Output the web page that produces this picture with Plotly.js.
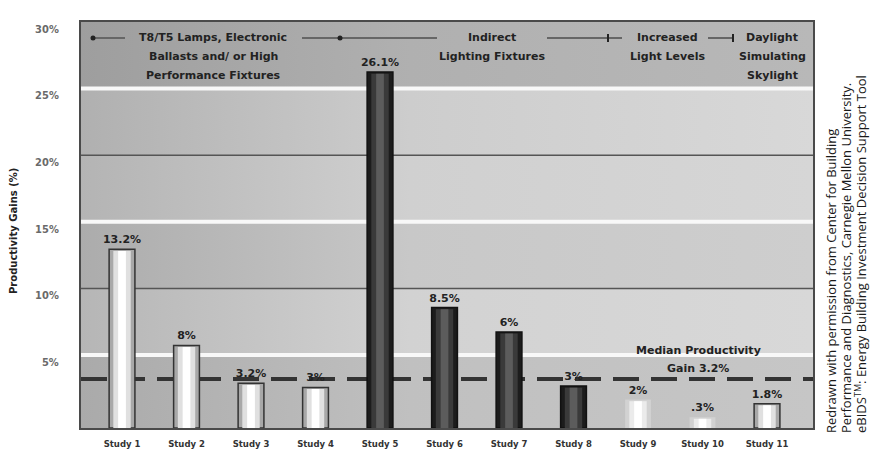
<!DOCTYPE html>
<html>
<head>
<meta charset="utf-8">
<script src="https://cdn.plot.ly/plotly-3.0.1.min.js"></script>
<style>html,body{margin:0;padding:0;background:#fff;}#chart{width:874px;height:455px;}</style>
</head>
<body>
<div id="chart"></div>
<script>
// ---------- data ----------
const categories = ['Study 1','Study 2','Study 3','Study 4','Study 5','Study 6','Study 7','Study 8','Study 9','Study 10','Study 11'];
const gains = [13.2, 6.1, 3.3, 3.0, 26.3, 8.9, 7.1, 3.1, 2.1, 0.8, 1.8];
const gainLabels = ['13.2%','8%','3.2%','3%','26.1%','8.5%','6%','3%','2%','.3%','1.8%'];
const barStyle = ['light','light','light','light','dark','dark','dark','dark','faint','faint','light'];
const yTickVals = [5, 10, 15, 20, 25, 30];
const yTickText = ['5%','10%','15%','20%','25%','30%'];
const medianGain = 3.2;
const medianLabel = ['Median Productivity', 'Gain 3.2%'];
const phaseLabels = [
  ['T8/T5 Lamps, Electronic', 'Ballasts and/ or High', 'Performance Fixtures'],
  ['Indirect', 'Lighting Fixtures'],
  ['Increased', 'Light Levels'],
  ['Daylight', 'Simulating', 'Skylight']
];
const yTitle = 'Productivity Gains (%)';
const creditLines = [
  'Redrawn with permission from Center for Building',
  'Performance and Diagnostics, Carnegie Mellon University.',
  'eBIDS<sup>TM</sup>: Energy Building Investment Decision Support Tool'
];

// ---------- styling ----------
const L = 81, R = 813, T = 22, B = 428;
const X = px => (px - L) / (R - L);
const Y = py => (B - py) / (B - T);
const yBaseRange = [-0.47, 30];

const palette = {
  light: {outer:'#a8a8a8', mid:'#e0e0e0', inner:'#ffffff', line:'#333333', lw:1.5},
  dark:  {outer:'#1c1c1c', mid:'#3a3a3a', inner:'#5c5c5c', line:'#111111', lw:1.5},
  faint: {outer:'#d2d2d2', mid:'#ebebeb', inner:'#ffffff', line:'rgba(0,0,0,0)', lw:0}
};
const bandColors = [ // bottom to top: left, mid, right
  ['#aaaaaa','#c0c0c0','#c6c6c6'],
  ['#b6b6b6','#d2d2d2','#d8d8d8'],
  ['#acacac','#c8c8c8','#cecece'],
  ['#b4b4b4','#d0d0d0','#d6d6d6'],
  ['#b0b0b0','#cdcdcd','#d8d8d8'],
  ['#9e9e9e','#b0b0b0','#b8b8b8']
];
const bandEdges = [yBaseRange[0], 5, 10, 15, 20, 25, 30];

const traces = [];
// background bands
for (let i = 0; i < bandColors.length; i++) {
  const lo = bandEdges[i], hi = bandEdges[i+1], c = bandColors[i];
  traces.push({
    type:'scatter', mode:'lines', x:[0,1,1,0,0], y:[lo,lo,hi,hi,lo],
    fill:'toself', fillcolor:c[1],
    fillgradient:{type:'horizontal', colorscale:[[0,c[0]],[0.45,c[1]],[1,c[2]]]},
    line:{width:0}, hoverinfo:'skip', xaxis:'x', yaxis:'y', showlegend:false
  });
}
// gridlines
[5,10,15,20,25].forEach(v => {
  const white = (v % 10 === 5);
  traces.push({
    type:'scatter', mode:'lines', x:[0,1], y:[v,v],
    line:{color: white ? '#f8f8f8' : '#555555', width: white ? 4 : 1.3},
    hoverinfo:'skip', xaxis:'x', yaxis:'y', showlegend:false
  });
});
// median line
traces.push({
  type:'scatter', mode:'lines', x:[0,1], y:[medianGain, medianGain],
  line:{color:'#333333', width:4, dash:'26px,12px'},
  hoverinfo:'skip', xaxis:'x', yaxis:'y', showlegend:false
});
// bars (three overlaid layers for the cylinder shading)
traces.push({
  type:'bar', x:categories, y:gains, width:0.4, xaxis:'x2', yaxis:'y2',
  marker:{color:barStyle.map(s=>palette[s].outer), line:{color:barStyle.map(s=>palette[s].line), width:barStyle.map(s=>palette[s].lw)}},
  text:gainLabels, textposition:'outside', constraintext:'none', cliponaxis:false,
  textfont:{family:'DejaVu Sans', size:11, color:'#222', weight:'bold'},
  hoverinfo:'skip', showlegend:false
});
traces.push({
  type:'bar', x:categories, y:gains.map(v=>v-0.12), width:0.27, xaxis:'x2', yaxis:'y2',
  marker:{color:barStyle.map(s=>palette[s].mid), line:{width:0}}, hoverinfo:'skip', showlegend:false
});
traces.push({
  type:'bar', x:categories, y:gains.map(v=>v-0.12), width:0.12, xaxis:'x2', yaxis:'y2',
  marker:{color:barStyle.map(s=>palette[s].inner), line:{width:0}}, hoverinfo:'skip', showlegend:false
});

// ---------- annotations ----------
const annotations = [];
const boldFont = (size, color) => ({family:'DejaVu Sans', size:size, color:color||'#222', weight:'bold'});
const phaseCenters = [213, 492, 667, 772];
const phaseLineY = [38, 57, 75];
phaseLabels.forEach((lines, i) => {
  lines.forEach((t, j) => {
    annotations.push({xref:'paper', yref:'paper', x:X(phaseCenters[i]), y:Y(phaseLineY[j]),
      xanchor:'center', yanchor:'middle', text:t, showarrow:false, font:boldFont(11)});
  });
});
medianLabel.forEach((t, j) => {
  annotations.push({xref:'paper', yref:'paper', x:X(698), y:Y(350 + j*18),
    xanchor:'center', yanchor:'middle', text:t, showarrow:false, font:boldFont(11)});
});
annotations.push({xref:'paper', yref:'paper', x:X(13), y:Y(231), textangle:-90,
  xanchor:'center', yanchor:'middle', text:yTitle, showarrow:false, font:boldFont(10)});
const creditX = [831, 846, 861];
creditLines.forEach((t, j) => {
  annotations.push({xref:'paper', yref:'paper', x:X(creditX[j]), y:Y(435), textangle:-90,
    xanchor:'center', yanchor:'bottom', text:t, showarrow:false,
    font:{family:'Open Sans', size:13, color:'#1a1a1a'}});
});

// phase connector lines and markers
const shapes = [];
const segs = [[93,125],[302,437],[547,622],[708,733]];
segs.forEach(s => shapes.push({type:'line', xref:'paper', yref:'paper', x0:X(s[0]), x1:X(s[1]), y0:Y(38), y1:Y(38),
  line:{color:'#666', width:2}, layer:'above'}));
[93, 340].forEach(px => shapes.push({type:'circle', xref:'paper', yref:'paper',
  x0:X(px-2.5), x1:X(px+2.5), y0:Y(40.5), y1:Y(35.5), fillcolor:'#222', line:{width:0}, layer:'above'}));
[608, 733].forEach(px => shapes.push({type:'line', xref:'paper', yref:'paper',
  x0:X(px), x1:X(px), y0:Y(42), y1:Y(34), line:{color:'#222', width:2}, layer:'above'}));

const layout = {
  width:874, height:455,
  margin:{l:L, r:874-R, t:T, b:455-B, pad:0},
  paper_bgcolor:'#ffffff', plot_bgcolor:'#c6c6c6',
  font:{family:'DejaVu Sans', color:'#222'},
  barmode:'overlay', showlegend:false,
  xaxis:{range:[0,1], showticklabels:false, showgrid:false, zeroline:false, ticks:'',
    showline:true, mirror:true, linecolor:'#4a4a4a', linewidth:2, fixedrange:true},
  yaxis:{range:yBaseRange, tickvals:yTickVals, ticktext:yTickText, showgrid:false, zeroline:false,
    showline:true, mirror:true, linecolor:'#4a4a4a', linewidth:2,
    ticks:'outside', ticklen:18, tickcolor:'rgba(0,0,0,0)', ticklabelshift:7,
    tickfont:{family:'DejaVu Sans Condensed', size:11, color:'#6a6a6a', weight:'bold'}, fixedrange:true},
  xaxis2:{overlaying:'x', anchor:'y2', type:'category', range:[-0.636, 10.713],
    showgrid:false, zeroline:false, showline:false, ticks:'outside', ticklen:8, tickcolor:'rgba(0,0,0,0)',
    tickfont:{family:'DejaVu Sans', size:8.5, color:'#333', weight:'bold'}, fixedrange:true},
  yaxis2:{overlaying:'y', anchor:'x2', range:[0,30], visible:false, fixedrange:true},
  annotations:annotations,
  shapes:shapes
};

Plotly.newPlot('chart', traces, layout, {displayModeBar:false, staticPlot:true});
</script>
</body>
</html>
